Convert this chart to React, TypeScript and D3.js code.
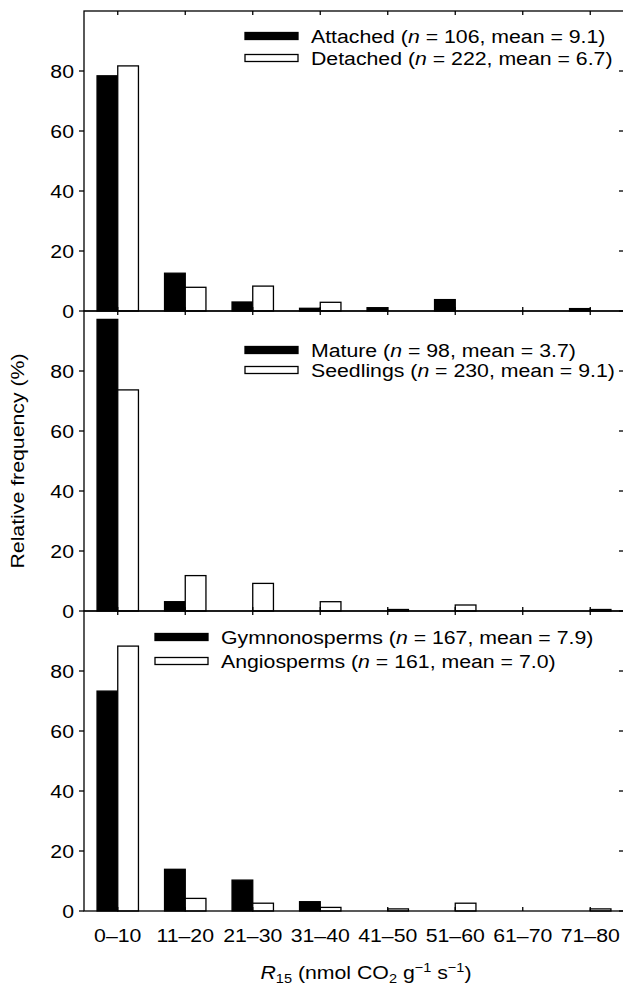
import React from "react";
import * as d3 from "d3";

const categories = ["0–10", "11–20", "21–30", "31–40", "41–50", "51–60", "61–70", "71–80"];

const attached = [78.4, 12.6, 3.0, 0.9, 1.1, 3.8, 0, 0.8];
const detached = [81.7, 7.9, 8.3, 2.9, 0, 0, 0, 0];
const mature = [97.2, 3.1, 0, 0, 0, 0, 0, 0];
const seedlings = [73.7, 11.8, 9.2, 3.1, 0.5, 2.0, 0, 0.5];
const gymno = [73.3, 13.9, 10.3, 3.1, 0, 0, 0, 0];
const angio = [88.3, 4.2, 2.6, 1.2, 0.7, 2.6, 0, 0.7];

const yTicks = [0, 20, 40, 60, 80];

const legendNames = [
  ["Attached", "Detached"],
  ["Mature", "Seedlings"],
  ["Gymnonosperms", "Angiosperms"],
];
const legendN = [
  ["106", "222"],
  ["98", "230"],
  ["167", "161"],
];
const legendMean = [
  ["9.1", "6.7"],
  ["3.7", "9.1"],
  ["7.9", "7.0"],
];
const panelSeries = [
  [attached, detached],
  [mature, seedlings],
  [gymno, angio],
];

// layout
const W = 623;
const H = 987;
const left = 84;
const step = 67.5;
const right = left + step * categories.length;
const panelTops = [11, 311, 611];
const panelH = 300;
const legendX = [245, 245, 155];
const legendRows = [
  [36, 58],
  [350, 370],
  [637, 661],
];
const FONT = "'Liberation Sans', Arial, Helvetica, sans-serif";
const SX = 1.12;
const stroke = "#000";
const lw = 1.3;

function SText({ x, y, anchor = "start", size = 19, children, rotate = 0 }: any) {
  return (
    <g transform={`translate(${x},${y}) rotate(${rotate}) scale(${SX},1)`}>
      <text x={0} y={0} textAnchor={anchor} fontSize={size} fontFamily={FONT} fill="#000">
        {children}
      </text>
    </g>
  );
}

export default function App() {
  const x = d3.scaleBand<string>().domain(categories).range([left, right]).paddingInner(0).paddingOuter(0);
  const barW = 20.7;

  return (
    <svg
      width={W}
      height={H}
      viewBox={`0 0 ${W} ${H}`}
      style={{ position: "absolute", left: 0, top: 0, background: "#fff" }}
    >
      <rect x={0} y={0} width={W} height={H} fill="#fff" />
      {panelTops.map((top, p) => {
        const y = d3.scaleLinear().domain([0, 100]).range([top + panelH, top]);
        const [s1, s2] = panelSeries[p];
        return (
          <g key={p}>
            {categories.map((c, i) => {
              const cx = (x(c) as number) + x.bandwidth() / 2;
              return (
                <g key={c}>
                  {s1[i] > 0 && (
                    <rect
                      x={cx - barW}
                      y={y(s1[i])}
                      width={barW}
                      height={y(0) - y(s1[i])}
                      fill="#000"
                      stroke={stroke}
                      strokeWidth={lw}
                    />
                  )}
                  {s2[i] > 0 && (
                    <rect
                      x={cx}
                      y={y(s2[i])}
                      width={barW}
                      height={y(0) - y(s2[i])}
                      fill="#fff"
                      stroke={stroke}
                      strokeWidth={lw}
                    />
                  )}
                </g>
              );
            })}
            <rect
              x={left}
              y={top}
              width={right - left}
              height={panelH}
              fill="none"
              stroke={stroke}
              strokeWidth={lw}
            />
            {categories.map((c) => {
              const cx = (x(c) as number) + x.bandwidth() / 2;
              return (
                <g key={"xt" + c}>
                  <line x1={cx} x2={cx} y1={top} y2={top + 4} stroke={stroke} strokeWidth={lw} />
                  <line
                    x1={cx}
                    x2={cx}
                    y1={top + panelH}
                    y2={top + panelH - 4}
                    stroke={stroke}
                    strokeWidth={lw}
                  />
                </g>
              );
            })}
            {yTicks.map((t) => (
              <g key={"yt" + t}>
                <line x1={left - 5} x2={left} y1={y(t)} y2={y(t)} stroke={stroke} strokeWidth={lw} />
                <line x1={right - 5} x2={right} y1={y(t)} y2={y(t)} stroke={stroke} strokeWidth={lw} />
                <SText x={left - 10} y={y(t) + 6.8} anchor="end" size={19}>
                  {String(t)}
                </SText>
              </g>
            ))}
            {[0, 1].map((k) => {
              const ry = legendRows[p][k];
              return (
                <g key={"lg" + k}>
                  <rect
                    x={legendX[p]}
                    y={ry - 3.5}
                    width={53}
                    height={7}
                    fill={k === 0 ? "#000" : "#fff"}
                    stroke={stroke}
                    strokeWidth={lw}
                  />
                  <SText x={legendX[p] + 66} y={ry + 6.5} size={19}>
                    {legendNames[p][k]} (<tspan fontStyle="italic">n</tspan> = {legendN[p][k]}, mean ={" "}
                    {legendMean[p][k]})
                  </SText>
                </g>
              );
            })}
          </g>
        );
      })}
      {categories.map((c) => (
        <SText key={"xl" + c} x={(x(c) as number) + x.bandwidth() / 2} y={942} anchor="middle" size={19}>
          {c}
        </SText>
      ))}
      <SText x={366} y={979} anchor="middle" size={19}>
        <tspan fontStyle="italic">R</tspan>
        <tspan fontSize={13} dy={4}>
          15
        </tspan>
        <tspan dy={-4}> (nmol CO</tspan>
        <tspan fontSize={13} dy={4}>
          2
        </tspan>
        <tspan dy={-4}> g</tspan>
        <tspan fontSize={13} dy={-7}>
          −1
        </tspan>
        <tspan dy={7}> s</tspan>
        <tspan fontSize={13} dy={-7}>
          −1
        </tspan>
        <tspan dy={7}>)</tspan>
      </SText>
      <g transform={`translate(24,461) rotate(-90) scale(${SX},1)`}>
        <text x={0} y={0} textAnchor="middle" fontSize={19} fontFamily={FONT} fill="#000">
          Relative frequency (%)
        </text>
      </g>
    </svg>
  );
}
